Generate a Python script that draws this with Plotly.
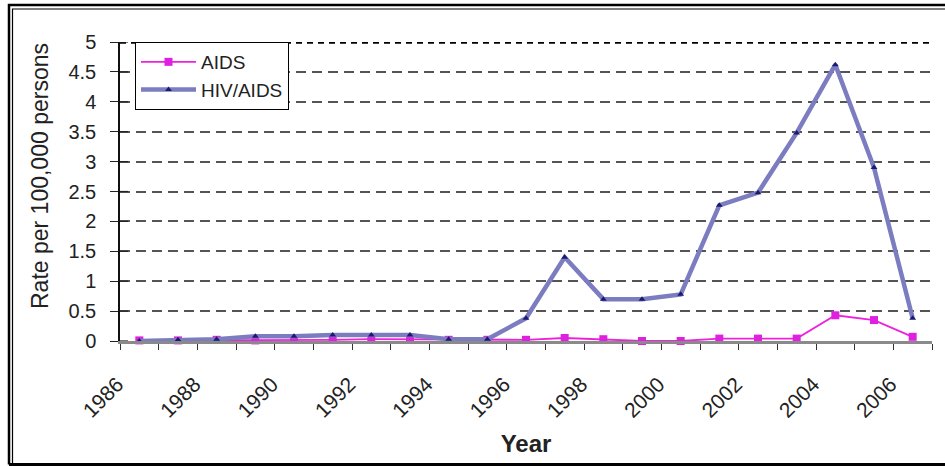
import plotly.graph_objects as go

years = list(range(1986, 2007))
aids = [0.01, 0.01, 0.02, 0.01, 0.02, 0.02, 0.03, 0.03, 0.02, 0.02, 0.02,
        0.05, 0.03, 0.0, 0.0, 0.04, 0.04, 0.04, 0.43, 0.35, 0.07]
hiv_aids = [0.0, 0.02, 0.03, 0.08, 0.08, 0.1, 0.1, 0.1, 0.03, 0.03, 0.38,
            1.4, 0.7, 0.7, 0.78, 2.27, 2.48, 3.48, 4.62, 2.9, 0.38]
tick_years = list(range(1986, 2007, 2))
y_ticks = [0, 0.5, 1, 1.5, 2, 2.5, 3, 3.5, 4, 4.5, 5]
y_tick_text = ["0", "0.5", "1", "1.5", "2", "2.5", "3", "3.5", "4", "4.5", "5"]

W, H = 945, 466
ML, MR, MT, MB = 120, 13, 42, 125
PW, PH = W - ML - MR, H - MT - MB

def px(x):
    return (x - ML) / PW

def py(y):
    return (H - MB - y) / PH

font = "Liberation Sans, Arial, sans-serif"

fig = go.Figure()
fig.add_trace(go.Scatter(
    x=years, y=aids, name="AIDS", mode="lines+markers",
    line=dict(color="#ee22dd", width=1.8),
    marker=dict(symbol="square", size=8, color="#e020e0"),
    cliponaxis=False,
))
fig.add_trace(go.Scatter(
    x=years, y=hiv_aids, name="HIV/AIDS", mode="lines+markers",
    line=dict(color="#7c7cc0", width=4.5),
    marker=dict(symbol="triangle-up", size=6, color="#1a1a70"),
    cliponaxis=False,
))

shapes = [
    dict(type="line", xref="x", yref="y", x0=1985.5, x1=2006.5, y0=5, y1=5,
         line=dict(color="black", width=3.5, dash="6px,5px")),
    dict(type="path", xref="paper", yref="paper",
         path=f"M {px(9)},{py(464.5)} L {px(9)},{py(5)} L {px(950)},{py(5)}",
         line=dict(color="black", width=2.5)),
    dict(type="path", xref="paper", yref="paper",
         path=f"M {px(12.5)},{py(464)} L {px(12.5)},{py(9)} L {px(950)},{py(9)}",
         line=dict(color="black", width=1.2)),
    dict(type="line", xref="paper", yref="paper",
         x0=px(9), x1=px(950), y0=py(464.5), y1=py(464.5),
         line=dict(color="black", width=3)),
]
# inner half of the crossing y-axis tick marks
for t in y_ticks:
    shapes.append(dict(type="line", xref="paper", yref="y", x0=0, x1=8 / PW, y0=t, y1=t,
                       line=dict(color="#222", width=1.2)))

fig.update_layout(
    width=W, height=H,
    margin=dict(l=ML, r=MR, t=MT, b=MB, autoexpand=False),
    paper_bgcolor="white", plot_bgcolor="white",
    font=dict(family=font, size=20, color="#222"),
    showlegend=True,
    legend=dict(
        x=px(135), y=1, xanchor="left", yanchor="top",
        bgcolor="white", bordercolor="black", borderwidth=1,
        font=dict(size=19, color="#222"),
        itemwidth=55, tracegroupgap=0,
    ),
    shapes=shapes,
    annotations=[dict(
        text="Rate per 100,000 persons", textangle=-90,
        xref="paper", yref="paper", x=px(40), y=py(176),
        xanchor="center", yanchor="middle", showarrow=False,
        font=dict(size=23, color="#222"),
    )],
    xaxis=dict(
        range=[1985.5, 2006.5],
        tickmode="array", tickvals=tick_years, ticktext=[str(y) for y in tick_years],
        ticks="", tickangle=-45,
        ticklabelstandoff=20, ticklabelshift=-22,
        showgrid=False, zeroline=False,
        showline=True, linecolor="#8a8a8a", linewidth=2.5,
        minor=dict(tickmode="array", tickvals=[y + 0.5 for y in range(1985, 2007)],
                   ticks="outside", ticklen=6, tickcolor="#333", tickwidth=1.2,
                   showgrid=False),
        tickfont=dict(size=21, color="#222"),
        automargin=False,
        title=dict(text="<b>Year</b>", font=dict(size=24, color="#222"), standoff=15),
    ),
    yaxis=dict(
        range=[0, 5],
        tickmode="array", tickvals=y_ticks, ticktext=y_tick_text,
        ticks="outside", ticklen=8, tickcolor="#222", tickwidth=1.2,
        ticklabelstandoff=10,
        showgrid=True, gridcolor="#555", gridwidth=2, griddash="10px,6px",
        zeroline=False,
        showline=True, linecolor="#111", linewidth=1.5,
        tickfont=dict(size=20, color="#222"),
        automargin=False,
    ),
)

fig.write_html("out.html", config={"displayModeBar": False},
               post_script="document.body.style.margin='0';document.body.style.overflow='hidden';")
